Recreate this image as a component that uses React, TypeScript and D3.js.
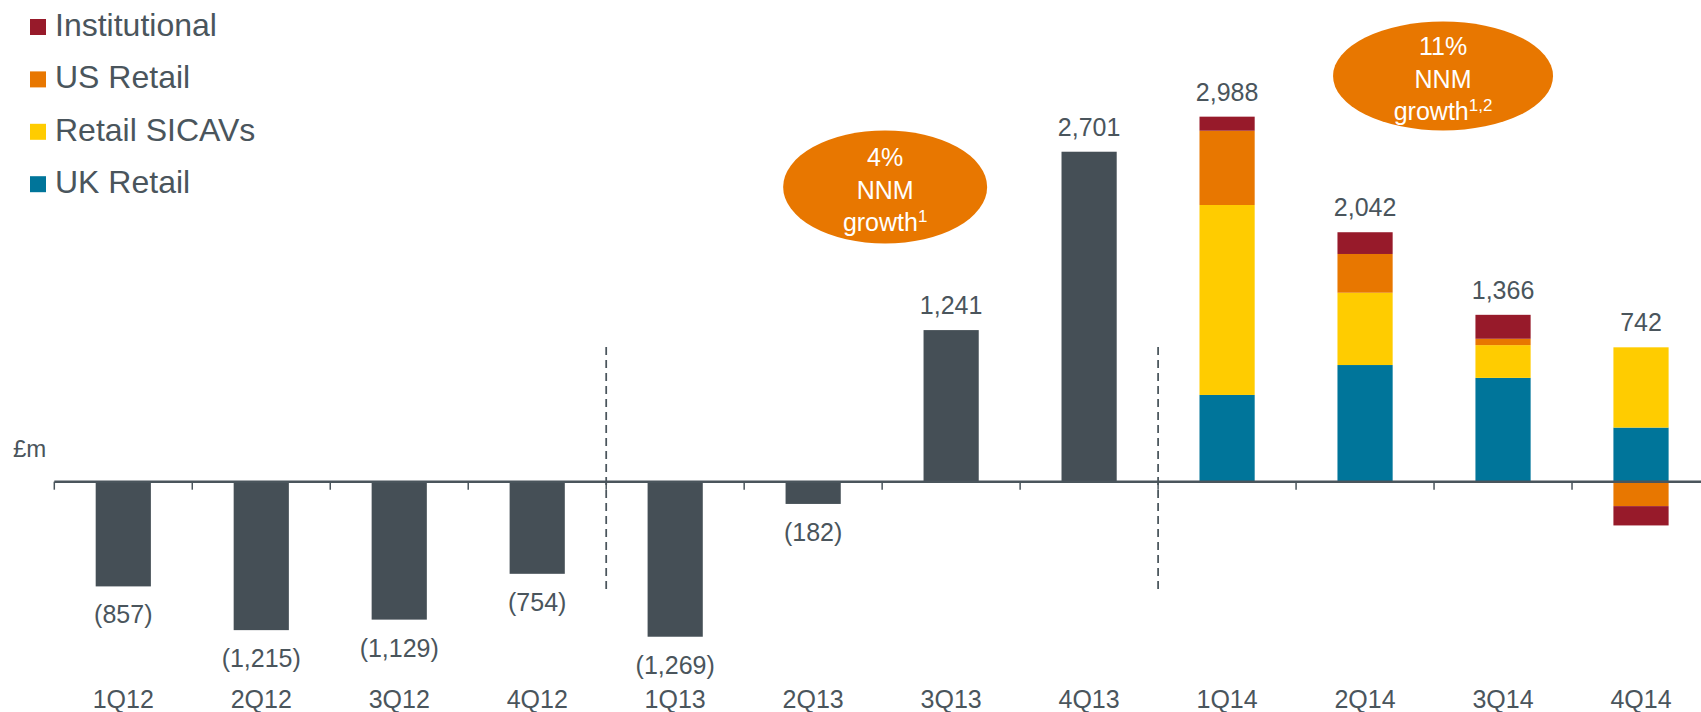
import React, { useEffect, useRef } from "react";
import * as d3 from "d3";

const quarters = ["1Q12", "2Q12", "3Q12", "4Q12", "1Q13", "2Q13", "3Q13", "4Q13", "1Q14", "2Q14", "3Q14", "4Q14"];
const totals = [-857, -1215, -1129, -754, -1269, -182, 1241, 2701, 2988, 2042, 1366, 742];

// 2014 split by channel
const splitQuarters = ["1Q14", "2Q14", "3Q14", "4Q14"];
const ukRetail = [710, 955, 850, 443];
const retailSicavs = [1555, 592, 268, 657];
const usRetail = [608, 317, 52, -200];
const institutional = [115, 178, 196, -158];

const seriesKeys = ["UK Retail", "Retail SICAVs", "US Retail", "Institutional"];
const seriesColors = ["#00759a", "#ffcc00", "#e87700", "#971a2a"];
const legendOrder = ["Institutional", "US Retail", "Retail SICAVs", "UK Retail"];

const bubbles = [
  { cat: "3Q13", pct: "4%", sup: "1" },
  { cat: "3Q14", pct: "11%", sup: "1,2" },
];

const dividers = ["1Q13", "1Q14"];

const W = 1701;
const H = 712;
const TEXT = "#4a555c";
const BAR = "#454f56";
const FONT = "'Liberation Sans', Arial, sans-serif";

export default function App() {
  const ref = useRef<SVGSVGElement>(null);

  useEffect(() => {
    const svg = d3.select(ref.current);
    svg.selectAll("*").remove();

    const x = d3.scaleBand().domain(quarters).range([54.3, 1710]).padding(0.6).paddingOuter(0.3);
    const y = d3.scaleLinear().domain([0, 3000]).range([481.7, 115.2]);
    const mid = (q: string) => x(q)! + x.bandwidth() / 2;
    const edge = (q: string) => x(q)! - x.step() * 0.3;

    const fmt = (v: number) => (v < 0 ? "(" + d3.format(",")(-v) + ")" : d3.format(",")(v));

    // plain bars for 2012-2013
    const plain = quarters.map((q, i) => ({ q, v: totals[i] })).filter((d) => !splitQuarters.includes(d.q));
    svg
      .append("g")
      .selectAll("rect")
      .data(plain)
      .enter()
      .append("rect")
      .attr("x", (d) => x(d.q)!)
      .attr("width", x.bandwidth())
      .attr("y", (d) => y(Math.max(0, d.v)))
      .attr("height", (d) => Math.abs(y(d.v) - y(0)))
      .attr("fill", BAR);

    // stacked bars for 2014
    const rows = splitQuarters.map((q, i) => ({
      q,
      "UK Retail": ukRetail[i],
      "Retail SICAVs": retailSicavs[i],
      "US Retail": usRetail[i],
      Institutional: institutional[i],
    }));
    const stacked = d3.stack<any>().keys(seriesKeys).offset(d3.stackOffsetDiverging)(rows);
    svg
      .append("g")
      .selectAll("g")
      .data(stacked)
      .enter()
      .append("g")
      .attr("fill", (d, i) => seriesColors[i])
      .selectAll("rect")
      .data((d) => d)
      .enter()
      .append("rect")
      .attr("x", (d) => x(d.data.q)!)
      .attr("width", x.bandwidth())
      .attr("y", (d) => y(d[1]))
      .attr("height", (d) => y(d[0]) - y(d[1]));

    // axis line and ticks
    const axis = svg.append("g").attr("stroke", TEXT);
    axis.append("line").attr("x1", 54.3).attr("x2", W).attr("y1", y(0)).attr("y2", y(0)).attr("stroke-width", 2.5);
    axis
      .selectAll("line.tick")
      .data(quarters)
      .enter()
      .append("line")
      .attr("class", "tick")
      .attr("x1", (d) => edge(d))
      .attr("x2", (d) => edge(d))
      .attr("y1", y(0))
      .attr("y2", y(0) + 8)
      .attr("stroke-width", 1.5);

    // dashed dividers between years
    svg
      .append("g")
      .selectAll("line")
      .data(dividers)
      .enter()
      .append("line")
      .attr("x1", (d) => edge(d))
      .attr("x2", (d) => edge(d))
      .attr("y1", 347)
      .attr("y2", 594)
      .attr("stroke", TEXT)
      .attr("stroke-width", 1.75)
      .attr("stroke-dasharray", "8,5");

    // value labels
    const posTop = (q: string, i: number) => {
      const k = splitQuarters.indexOf(q);
      if (k < 0) return totals[i];
      return [ukRetail[k], retailSicavs[k], usRetail[k], institutional[k]].filter((v) => v > 0).reduce((a, b) => a + b, 0);
    };
    svg
      .append("g")
      .attr("font-family", FONT)
      .attr("font-size", 25)
      .attr("fill", TEXT)
      .attr("text-anchor", "middle")
      .selectAll("text")
      .data(quarters)
      .enter()
      .append("text")
      .attr("x", (d) => mid(d))
      .attr("y", (d, i) => (totals[i] < 0 ? y(totals[i]) + 37 : y(posTop(d, i)) - 16))
      .text((d, i) => fmt(totals[i]));

    // category labels
    svg
      .append("g")
      .attr("font-family", FONT)
      .attr("font-size", 25)
      .attr("fill", TEXT)
      .attr("text-anchor", "middle")
      .selectAll("text")
      .data(quarters)
      .enter()
      .append("text")
      .attr("x", (d) => mid(d))
      .attr("y", 708)
      .text((d) => d);

    svg
      .append("text")
      .attr("x", 13)
      .attr("y", 456.7)
      .attr("font-family", FONT)
      .attr("font-size", 24)
      .attr("fill", TEXT)
      .text("£m");

    // legend
    const legend = svg
      .append("g")
      .selectAll("g")
      .data(legendOrder)
      .enter()
      .append("g")
      .attr("transform", (d, i) => `translate(0, ${36 + i * 52.4})`);
    legend
      .append("rect")
      .attr("x", 30)
      .attr("y", -17)
      .attr("width", 16)
      .attr("height", 16)
      .attr("fill", (d) => seriesColors[seriesKeys.indexOf(d)]);
    legend
      .append("text")
      .attr("x", 55)
      .attr("font-family", FONT)
      .attr("font-size", 32)
      .attr("fill", TEXT)
      .text((d) => d);

    // NNM growth bubbles
    const bub = svg
      .append("g")
      .selectAll("g")
      .data(bubbles)
      .enter()
      .append("g")
      .attr("transform", (d, i) => (i === 0 ? `translate(${mid(d.cat) - 66},187)` : `translate(${mid(d.cat) - 60},76)`));
    bub
      .append("ellipse")
      .attr("rx", (d, i) => (i === 0 ? 102 : 110))
      .attr("ry", (d, i) => (i === 0 ? 56.5 : 54.5))
      .attr("fill", "#e87700");
    const t = bub
      .append("text")
      .attr("font-family", FONT)
      .attr("font-size", 25)
      .attr("fill", "#ffffff")
      .attr("text-anchor", "middle");
    t.append("tspan").attr("x", 0).attr("y", -21).text((d) => d.pct);
    t.append("tspan").attr("x", 0).attr("y", 11.5).text("NNM");
    const g3 = t.append("tspan").attr("x", 0).attr("y", 44);
    g3.append("tspan").text("growth");
    g3.append("tspan").attr("font-size", 17).attr("dy", -9).text((d) => d.sup);
  }, []);

  return (
    <svg
      ref={ref}
      width={W}
      height={H}
      style={{ position: "absolute", left: 0, top: 0, background: "#fff" }}
    />
  );
}
